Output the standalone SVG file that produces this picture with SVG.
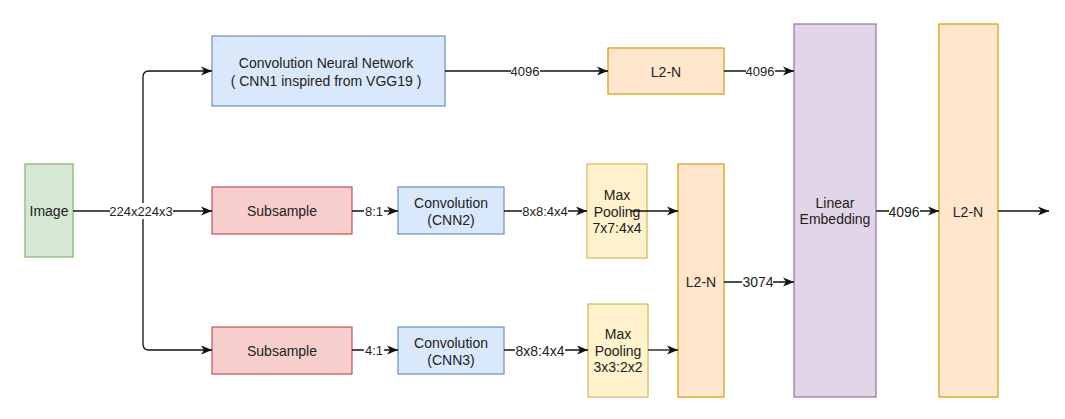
<svg xmlns="http://www.w3.org/2000/svg" width="1065" height="419" viewBox="0 0 1065 419">
<style>
text{font-family:"Liberation Sans",Arial,sans-serif;fill:#222;text-anchor:middle;dominant-baseline:central}
.n{font-size:14px}
.l{font-size:13px}
.e{fill:none;stroke:#111;stroke-width:1.3;marker-end:url(#a)}
.lb{fill:#fff}
.g{fill:#d5e8d4;stroke:#82b366}
.b{fill:#dae8fc;stroke:#6c8ebf}
.r{fill:#f8cecc;stroke:#b85450}
.y{fill:#fff2cc;stroke:#d6b656}
.o{fill:#ffe6cc;stroke:#d79b00}
.p{fill:#e1d5e7;stroke:#9673a6}
rect{stroke-width:1.2}
</style>
<defs>
<marker id="a" markerUnits="userSpaceOnUse" markerWidth="12" markerHeight="10" refX="11" refY="5" orient="auto">
<path d="M0,0.5 L11,5 L0,9.5 L3,5 Z" fill="#111"/>
</marker>
</defs>
<rect width="1065" height="419" fill="#fff" stroke="none"/>
<g id="image"><rect class="g" x="25" y="164" width="48" height="93"/><text class="n" x="49" y="211">Image</text></g>
<g id="cnn1"><rect class="b" x="212" y="36" width="233" height="70"/><text class="n" x="326" y="63">Convolution Neural Network</text><text class="n" x="326" y="81">( CNN1 inspired from VGG19 )</text></g>
<g id="l2n-top"><rect class="o" x="608" y="48" width="116" height="46"/><text class="n" x="666" y="72">L2-N</text></g>
<g id="subsample1"><rect class="r" x="212" y="187" width="140" height="47"/><text class="n" x="282" y="211">Subsample</text></g>
<g id="cnn2"><rect class="b" x="398" y="187" width="106" height="47"/><text class="n" x="451" y="203">Convolution</text><text class="n" x="451" y="220">(CNN2)</text></g>
<g id="maxpool1"><rect class="y" x="587" y="164" width="60" height="94"/><text class="n" x="617" y="195">Max</text><text class="n" x="617" y="212">Pooling</text><text class="n" x="617" y="228">7x7:4x4</text></g>
<g id="subsample2"><rect class="r" x="212" y="327" width="140" height="47"/><text class="n" x="282" y="351">Subsample</text></g>
<g id="cnn3"><rect class="b" x="398" y="327" width="106" height="47"/><text class="n" x="451" y="343">Convolution</text><text class="n" x="451" y="360">(CNN3)</text></g>
<g id="maxpool2"><rect class="y" x="588" y="304" width="60" height="93"/><text class="n" x="618" y="334">Max</text><text class="n" x="618" y="351">Pooling</text><text class="n" x="618" y="367">3x3:2x2</text></g>
<g id="l2n-mid"><rect class="o" x="678" y="164" width="46" height="233"/><text class="n" x="701" y="282">L2-N</text></g>
<g id="linear-embedding"><rect class="p" x="794" y="24" width="82" height="373"/><text class="n" x="835" y="203">Linear</text><text class="n" x="835" y="219">Embedding</text></g>
<g id="l2n-final"><rect class="o" x="939" y="24" width="59" height="373"/><text class="n" x="968" y="212">L2-N</text></g>
<g id="connectors">
<path class="e" d="M73,211 H212"/>
<path class="e" d="M143,211 V77 Q143,71 149,71 H212"/>
<path class="e" d="M143,211 V344 Q143,350 149,350 H212"/>
<path class="e" d="M445,71 H608"/>
<path class="e" d="M724,71 H794"/>
<path class="e" d="M352,211 H398"/>
<path class="e" d="M504,211 H587"/>
<path class="e" d="M630,211 H678"/>
<path class="e" d="M352,350 H398"/>
<path class="e" d="M504,350 H588"/>
<path class="e" d="M648,350 H678"/>
<path class="e" d="M724,282 H794"/>
<path class="e" d="M876,211 H939"/>
<path class="e" d="M998,211 H1049"/>
<rect class="lb" x="110" y="203" width="63" height="16" stroke="none"/>
<text class="l" x="141" y="211">224x224x3</text>
<rect class="lb" x="511" y="63" width="29" height="16" stroke="none"/>
<text class="l" x="525" y="71">4096</text>
<rect class="lb" x="746" y="63" width="29" height="16" stroke="none"/>
<text class="l" x="760" y="71">4096</text>
<rect class="lb" x="364" y="203" width="20" height="16" stroke="none"/>
<text class="l" x="374" y="211">8:1</text>
<rect class="lb" x="522" y="203" width="46" height="16" stroke="none"/>
<text class="l" x="545" y="211">8x8:4x4</text>
<rect class="lb" x="364" y="342" width="20" height="16" stroke="none"/>
<text class="l" x="374" y="350">4:1</text>
<rect class="lb" x="515" y="342" width="50" height="16" stroke="none"/>
<text class="l" x="540" y="351" style="font-size:14px">8x8:4x4</text>
<rect class="lb" x="742" y="274" width="31" height="16" stroke="none"/>
<text class="l" x="758" y="282" style="font-size:14px">3074</text>
<rect class="lb" x="889" y="203" width="31" height="16" stroke="none"/>
<text class="l" x="904" y="212" style="font-size:14px">4096</text>
</g>
</svg>
